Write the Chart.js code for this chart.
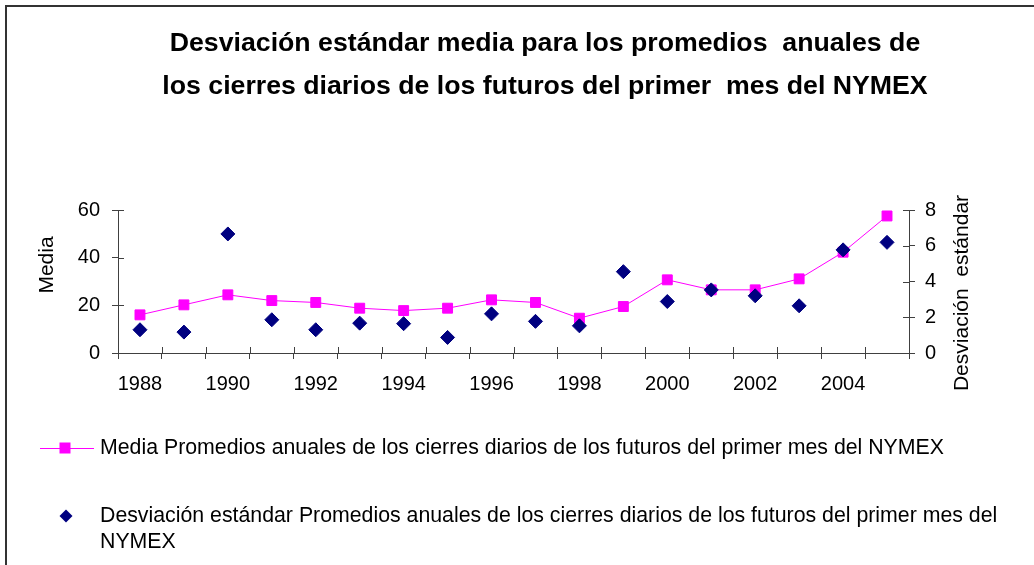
<!DOCTYPE html>
<html><head><meta charset="utf-8">
<script src="https://cdn.jsdelivr.net/npm/chart.js@4.4.1/dist/chart.umd.min.js"></script>
<style>html,body{margin:0;padding:0;background:#fff}canvas{display:block}</style>
</head><body>
<canvas id="c" width="1034" height="565"></canvas>
<script>
// ---- data ----
const years = ['1988','1989','1990','1991','1992','1993','1994','1995','1996','1997','1998','1999','2000','2001','2002','2003','2004','2005'];
const media = [16.0, 20.2, 24.4, 22.0, 21.2, 18.8, 17.8, 18.8, 22.3, 21.2, 14.6, 19.5, 30.7, 26.5, 26.5, 31.1, 42.3, 57.5];
const desviacion = [1.30, 1.17, 6.66, 1.86, 1.30, 1.67, 1.64, 0.87, 2.19, 1.77, 1.52, 4.55, 2.88, 3.53, 3.20, 2.64, 5.77, 6.19];
const titleLines = ['Desviación estándar media para los promedios  anuales de', 'los cierres diarios de los futuros del primer  mes del NYMEX'];
const leftAxisTitle = 'Media';
const rightAxisTitle = 'Desviación  estándar';
const legendMedia = 'Media Promedios anuales de los cierres diarios de los futuros del primer mes del NYMEX';
const legendDesv = 'Desviación estándar Promedios anuales de los cierres diarios de los futuros del primer mes del NYMEX';
const mediaRange = {min: 0, max: 60, step: 20};
const desvRange = {min: 0, max: 8, step: 2};

// ---- styles ----
const FONT = "'Liberation Sans', Arial, sans-serif";
const PINK = '#FF00FF';
const NAVY = '#000080';
const AXIS = '#404040';

const decor = {
  id: 'decor',
  beforeDraw(chart) {
    const ctx = chart.ctx;
    ctx.save();
    ctx.fillStyle = '#fff';
    ctx.fillRect(0, 0, chart.width, chart.height);
    ctx.restore();
  },
  afterDraw(chart) {
    const ctx = chart.ctx;
    const ca = chart.chartArea;
    const sx = chart.scales.x, sy = chart.scales.y, sy1 = chart.scales.y1;
    ctx.save();
    // outer frame (top + left visible)
    ctx.strokeStyle = '#333';
    ctx.lineWidth = 2;
    ctx.beginPath();
    ctx.moveTo(6, chart.height + 5);
    ctx.lineTo(6, 6);
    ctx.lineTo(chart.width + 5, 6);
    ctx.stroke();

    // inner halves of cross tick marks
    ctx.strokeStyle = AXIS;
    ctx.lineWidth = 1;
    ctx.beginPath();
    sy.ticks.forEach(t => {
      const p = Math.round(sy.getPixelForValue(t.value)) + 0.5;
      ctx.moveTo(ca.left, p); ctx.lineTo(ca.left + 6, p);
    });
    sy1.ticks.forEach(t => {
      const p = Math.round(sy1.getPixelForValue(t.value)) + 0.5;
      ctx.moveTo(ca.right - 6, p); ctx.lineTo(ca.right, p);
    });
    for (let i = 0; i <= years.length; i++) {
      const p = Math.round(sx.getPixelForValue(i - 0.5)) + 0.5;
      ctx.moveTo(p, ca.bottom - 6); ctx.lineTo(p, ca.bottom);
    }
    ctx.stroke();

    // axis titles (both read bottom-to-top)
    ctx.fillStyle = '#000';
    ctx.font = '21px ' + FONT;
    ctx.textAlign = 'center';
    ctx.textBaseline = 'middle';
    ctx.save();
    ctx.translate(47, 265);
    ctx.rotate(-Math.PI / 2);
    ctx.fillText(leftAxisTitle, 0, 0);
    ctx.restore();
    ctx.save();
    ctx.translate(962, 293);
    ctx.rotate(-Math.PI / 2);
    ctx.fillText(rightAxisTitle, 0, 0);
    ctx.restore();

    // legend
    ctx.font = '21.3px ' + FONT;
    ctx.textAlign = 'left';
    const textX = 100;
    // entry 1: line + square
    const y1 = 448;
    ctx.strokeStyle = PINK;
    ctx.lineWidth = 1;
    ctx.beginPath();
    ctx.moveTo(40, y1 + 0.5); ctx.lineTo(94, y1 + 0.5);
    ctx.stroke();
    ctx.fillStyle = PINK;
    ctx.fillRect(65 - 5.5, y1 - 5.5, 11, 11);
    ctx.fillStyle = '#000';
    ctx.fillText(legendMedia, textX, y1);
    // entry 2: diamond + wrapped text
    const y2 = 516;
    ctx.fillStyle = NAVY;
    ctx.beginPath();
    ctx.moveTo(66 - 6.5, y2); ctx.lineTo(66, y2 - 6.5); ctx.lineTo(66 + 6.5, y2); ctx.lineTo(66, y2 + 6.5);
    ctx.closePath(); ctx.fill();
    ctx.fillStyle = '#000';
    const words = legendDesv.split(' ');
    const lines = [];
    let cur = '';
    words.forEach(w => {
      const test = cur ? cur + ' ' + w : w;
      if (ctx.measureText(test).width > 915 && cur) { lines.push(cur); cur = w; }
      else cur = test;
    });
    if (cur) lines.push(cur);
    lines.forEach((l, i) => ctx.fillText(l, textX, y2 + i * 26));
    ctx.restore();
  }
};

new Chart(document.getElementById('c'), {
  type: 'line',
  data: {
    labels: years,
    datasets: [
      {
        label: legendMedia,
        data: media,
        yAxisID: 'y',
        borderColor: PINK,
        backgroundColor: PINK,
        borderWidth: 1,
        pointStyle: 'rect',
        pointRadius: 7,
        pointBorderWidth: 1,
        pointBorderColor: PINK,
        pointBackgroundColor: PINK,
        tension: 0,
        order: 1
      },
      {
        label: legendDesv,
        data: desviacion,
        yAxisID: 'y1',
        showLine: false,
        borderColor: NAVY,
        backgroundColor: NAVY,
        pointStyle: 'rectRot',
        pointRadius: 7,
        pointBorderWidth: 1,
        pointBorderColor: NAVY,
        pointBackgroundColor: NAVY,
        order: 0
      }
    ]
  },
  options: {
    responsive: false,
    devicePixelRatio: 1,
    animation: false,
    layout: { padding: { left: 56, right: 0, top: 0, bottom: 162 } },
    plugins: {
      legend: { display: false },
      tooltip: { enabled: false },
      title: {
        display: true,
        text: titleLines,
        color: '#000',
        font: { family: FONT, size: 26.7, weight: 'bold', lineHeight: 43 / 26.7 },
        padding: { top: 22.5, bottom: 101.5 }
      }
    },
    scales: {
      x: {
        type: 'category',
        offset: true,
        grid: { offset: true, drawOnChartArea: false, drawTicks: true, tickLength: 6, color: AXIS, lineWidth: 1 },
        border: { display: true, color: AXIS, width: 1 },
        ticks: {
          autoSkip: false, maxRotation: 0, minRotation: 0,
          color: '#000', font: { family: FONT, size: 20 }, padding: 13,
          callback: (v, i) => (i % 2 === 0 ? years[i] : '')
        },
        afterFit: s => { s.height = 50; }
      },
      y: {
        position: 'left',
        min: mediaRange.min, max: mediaRange.max,
        grid: { drawOnChartArea: false, drawTicks: true, tickLength: 6, color: AXIS, lineWidth: 1 },
        border: { display: true, color: AXIS, width: 1 },
        ticks: { stepSize: mediaRange.step, color: '#000', font: { family: FONT, size: 20 }, padding: 12 },
        afterFit: s => { s.width = 62; }
      },
      y1: {
        position: 'right',
        min: desvRange.min, max: desvRange.max,
        grid: { drawOnChartArea: false, drawTicks: true, tickLength: 6, color: AXIS, lineWidth: 1 },
        border: { display: true, color: AXIS, width: 1 },
        ticks: { stepSize: desvRange.step, color: '#000', font: { family: FONT, size: 20 }, padding: 10 },
        afterFit: s => { s.width = 125; }
      }
    }
  },
  plugins: [decor]
});
</script>
</body></html>
